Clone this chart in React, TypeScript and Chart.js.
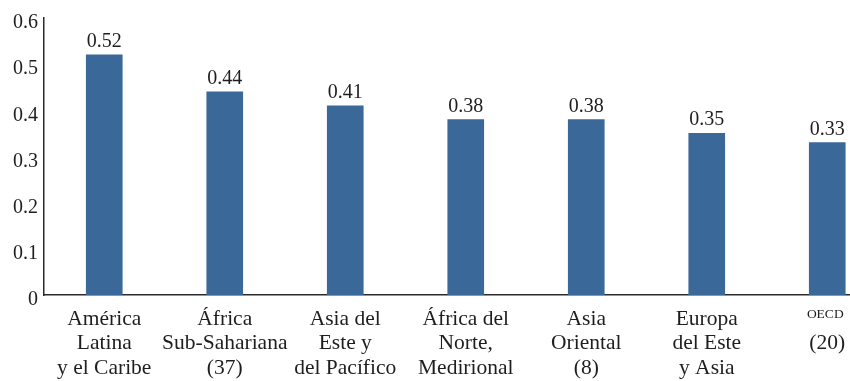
import React, { useEffect, useRef } from "react";
import { Chart, registerables } from "chart.js";

Chart.register(...registerables);

const categories: string[][] = [
  ["América", "Latina", "y el Caribe"],
  ["África", "Sub-Sahariana", "(37)"],
  ["Asia del", "Este y", "del Pacífico"],
  ["África del", "Norte,", "Medirional"],
  ["Asia", "Oriental", "(8)"],
  ["Europa", "del Este", "y Asia"],
  ["OECD", "(20)"],
];
const smallFirstLine = [false, false, false, false, false, false, true];
const values = [0.52, 0.44, 0.41, 0.38, 0.38, 0.35, 0.33];
const yTicks = [0, 0.1, 0.2, 0.3, 0.4, 0.5, 0.6];

const FONT = "'Liberation Serif', serif";
const TEXT = "#1e1e1e";
const BAR = "#3a6899";

export default function App() {
  const ref = useRef<HTMLCanvasElement | null>(null);

  useEffect(() => {
    if (!ref.current) return;
    const labelsPlugin = {
      id: "valueLabels",
      afterDatasetsDraw(chart: any) {
        const ctx = chart.ctx;
        const meta = chart.getDatasetMeta(0);
        ctx.save();
        ctx.fillStyle = TEXT;
        ctx.font = `20px ${FONT}`;
        ctx.textAlign = "center";
        ctx.textBaseline = "alphabetic";
        meta.data.forEach((bar: any, i: number) => {
          ctx.fillText(values[i].toFixed(2), bar.x, bar.y - 8);
        });
        ctx.restore();
      },
      afterDraw(chart: any) {
        const ctx = chart.ctx;
        const xs = chart.scales.x;
        ctx.save();
        ctx.fillStyle = TEXT;
        ctx.font = `13.5px ${FONT}`;
        ctx.textAlign = "center";
        ctx.textBaseline = "middle";
        categories.forEach((lines, i) => {
          if (smallFirstLine[i]) {
            ctx.fillText(lines[0], xs.getPixelForValue(i) - 2, chart.chartArea.bottom + 19);
          }
        });
        ctx.restore();
      },
    };

    const chart = new Chart(ref.current, {
      type: "bar",
      data: {
        labels: categories.map((c) => c.join(" ")),
        datasets: [
          {
            data: values,
            backgroundColor: BAR,
            borderWidth: 0,
            barThickness: 36,
          },
        ],
      },
      options: {
        animation: false,
        responsive: true,
        maintainAspectRatio: false,
        layout: { padding: { top: 18, right: 12.5, left: 0, bottom: 0 } },
        plugins: {
          legend: { display: false },
          tooltip: { enabled: false },
        },
        scales: {
          x: {
            offset: true,
            grid: { display: false, drawTicks: false },
            border: { display: true, color: "#2b2b2b", width: 1.5 },
            ticks: {
              color: TEXT,
              font: { family: FONT, size: 21.5, lineHeight: 1.14 },
              padding: 12,
              maxRotation: 0,
              minRotation: 0,
              autoSkip: false,
              callback: (_v: any, i: number) =>
                smallFirstLine[i] ? ["", ...categories[i].slice(1)] : categories[i],
            },
            afterFit: (s: any) => {
              s.height = 86;
            },
          },
          y: {
            min: 0,
            max: 0.6,
            grid: { display: false, drawTicks: false },
            border: { display: true, color: "#2b2b2b", width: 1.5 },
            ticks: {
              color: TEXT,
              font: { family: FONT, size: 20 },
              padding: 6,
              labelOffset: 5,
              stepSize: 0.1,
              callback: (v: any) => {
                const n = Number(v);
                const t = yTicks.find((k) => Math.abs(k - n) < 1e-6);
                if (t === undefined) return "";
                return t === 0 ? "0" : t.toFixed(1);
              },
            },
            afterFit: (s: any) => {
              s.width = 44;
            },
          },
        },
      },
      plugins: [labelsPlugin],
    });
    return () => chart.destroy();
  }, []);

  return (
    <div
      style={{
        position: "fixed",
        left: 0,
        top: 0,
        width: 850,
        height: 381,
        overflow: "hidden",
        background: "#ffffff",
      }}
    >
      <div style={{ position: "relative", width: 900, height: 381 }}>
        <canvas ref={ref} />
      </div>
    </div>
  );
}
